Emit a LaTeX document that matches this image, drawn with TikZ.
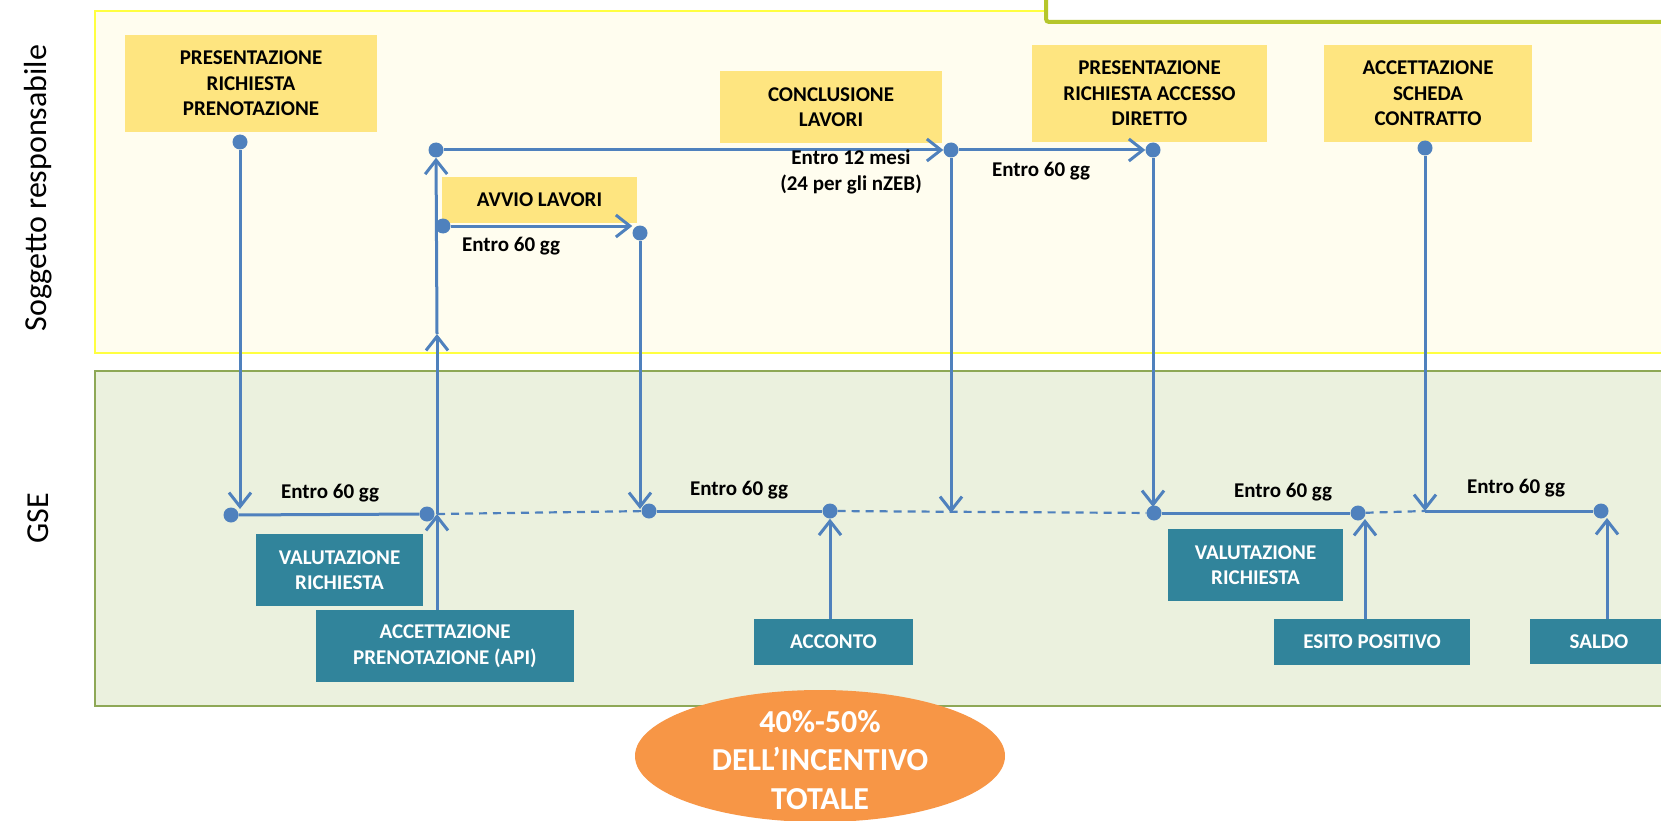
\documentclass[tikz,border=0pt]{standalone}
\usepackage{fontspec}
\setmainfont{Carlito}
\usetikzlibrary{arrows.meta}
\definecolor{lncol}{RGB}{79,129,189}
\definecolor{yboxcol}{RGB}{254,229,128}
\definecolor{tealcol}{RGB}{49,132,155}
\definecolor{orcol}{RGB}{247,150,70}
\definecolor{lane1fill}{RGB}{255,253,239}
\definecolor{lane1draw}{RGB}{255,255,64}
\definecolor{lane2fill}{RGB}{235,241,222}
\definecolor{lane2draw}{RGB}{142,168,86}
\definecolor{trcol}{RGB}{181,198,43}
\tikzset{
  txt/.style={font=\bfseries\fontsize{21}{25.5}\selectfont},
  ybox/.style={txt, fill=yboxcol, inner sep=0pt, align=center, text=black},
  tbox/.style={txt, fill=tealcol, inner sep=0pt, align=center, text=white},
  dot/.style={circle, fill=lncol, inner sep=0pt, minimum size=15pt},
  ln/.style={draw=lncol, line width=3pt},
  arr/.style={ln, -{Straight Barb[length=14pt,width=22pt]}},
  dsh/.style={draw=lncol, line width=2.2pt, dash pattern=on 8pt off 6pt},
  lab/.style={txt, inner sep=0pt, align=center},
  lanelab/.style={font=\fontsize{32}{38}\selectfont, inner sep=0pt}
}
\begin{document}
\begin{tikzpicture}[x=1pt,y=-1pt]
\useasboundingbox (0,0) rectangle (1661,821);
\fill[white] (0,0) rectangle (1661,821);
% lanes
\draw[fill=lane1fill, draw=lane1draw, line width=2pt] (95,11) rectangle (1720,353);
\draw[fill=lane2fill, draw=lane2draw, line width=2pt] (95,371) rectangle (1720,706);
\node[lanelab, rotate=90] (l1) at (38,188) {Soggetto responsabile};
\node[lanelab, rotate=90] (l2) at (38,518) {GSE};
% top-right box
\draw[fill=white, draw=trcol, line width=4pt, rounded corners=3pt] (1046,-40) rectangle (1720,22);
% yellow boxes
\node[ybox, minimum width=252pt, minimum height=97pt] (b1) at (251,83.5) {PRESENTAZIONE\\RICHIESTA\\PRENOTAZIONE};
\node[ybox, minimum width=195pt, minimum height=46pt] (avvio) at (539.5,200) {AVVIO LAVORI};
\node[ybox, minimum width=222pt, minimum height=72pt] (concl) at (831,107) {CONCLUSIONE\\LAVORI};
\node[ybox, minimum width=235pt, minimum height=97pt] (acc) at (1149.5,93.5) {PRESENTAZIONE\\RICHIESTA ACCESSO\\DIRETTO};
\node[ybox, minimum width=208pt, minimum height=97pt] (sch) at (1428,93.5) {ACCETTAZIONE\\SCHEDA\\CONTRATTO};
% teal boxes
\node[tbox, minimum width=167pt, minimum height=72pt] (val1) at (339.5,570) {VALUTAZIONE\\RICHIESTA};
\node[tbox, minimum width=258pt, minimum height=72pt] (api) at (445,646) {ACCETTAZIONE\\PRENOTAZIONE (API)};
\node[tbox, minimum width=159pt, minimum height=46pt] (acconto) at (833.5,642) {ACCONTO};
\node[tbox, minimum width=175pt, minimum height=72pt] (val2) at (1255.5,565) {VALUTAZIONE\\RICHIESTA};
\node[tbox, minimum width=196pt, minimum height=46pt] (esito) at (1372,642) {ESITO POSITIVO};
\node[tbox, minimum width=138pt, minimum height=45pt] (saldo) at (1599,641.5) {SALDO};
% ellipse
\fill[orcol] (820,756) ellipse [x radius=185, y radius=66];
\node[txt, font=\bfseries\fontsize{32}{38.5}\selectfont, text=white, align=center, inner sep=0pt] (pct) at (820,760) {40\%-50\%\\DELL’INCENTIVO\\TOTALE};
% dots
\node[dot] (p1) at (240,142) {};
\node[dot] (p2) at (436,150) {};
\node[dot] (p3) at (443,226) {};
\node[dot] (p5) at (640,233) {};
\node[dot] (p4) at (951,150) {};
\node[dot] (p6) at (1153,150) {};
\node[dot] (p7) at (1425,148) {};
\node[dot] (g1) at (231,515) {};
\node[dot] (g2) at (427,514) {};
\node[dot] (g3) at (649,511) {};
\node[dot] (g4) at (830,511) {};
\node[dot] (g5) at (1154,513) {};
\node[dot] (g6) at (1358,513) {};
\node[dot] (g7) at (1601,511) {};
% free ends
\coordinate (q1) at (240,509);
\coordinate (a2) at (437,514);
\coordinate (a3) at (437,334);
\coordinate (q5) at (640,509);
\coordinate (q4) at (951,513);
\coordinate (q6) at (1153,507);
\coordinate (q7) at (1365,519);
\coordinate (q8) at (1425,511);
\coordinate (q9) at (1607,518);
% connectors
\draw[arr] (p1) -- (q1);
\draw[ln] (g1) -- (g2);
\draw[arr] (api.north -| a2) -- (a2);
\draw[arr] (a2) -- (a3);
\draw[arr] (a3) -- (p2);
\draw[arr] (p2) -- (p4);
\draw[arr] (p3) -- (p3 -| p5.west);
\draw[arr] (p5) -- (q5);
\draw[dsh] (a2) -- (g3);
\draw[ln] (g3) -- (g4);
\draw[arr] (acconto.north -| g4) -- (g4);
\draw[arr] (p4) -- (q4);
\draw[dsh] (g4) -- (g5);
\draw[arr] (p4) -- (p6);
\draw[arr] (p6) -- (q6);
\draw[ln] (g5) -- (g6);
\draw[arr] (esito.north -| q7) -- (q7);
\draw[arr] (p7) -- (q8);
\draw[dsh] (g6) -- (q8);
\draw[ln] (q8) -- (g7);
\draw[arr] (saldo.north -| q9) -- (q9);
% labels
\node[lab] (e1) at (330,493) {Entro 60 gg};
\node[lab] (e2) at (511,246) {Entro 60 gg};
\node[lab] (e3) at (851,172) {Entro 12 mesi\\(24 per gli nZEB)};
\node[lab] (e4) at (1041,171) {Entro 60 gg};
\node[lab] (e5) at (739,490) {Entro 60 gg};
\node[lab] (e6) at (1283,492) {Entro 60 gg};
\node[lab] (e7) at (1516,488) {Entro 60 gg};
\end{tikzpicture}
\end{document}
